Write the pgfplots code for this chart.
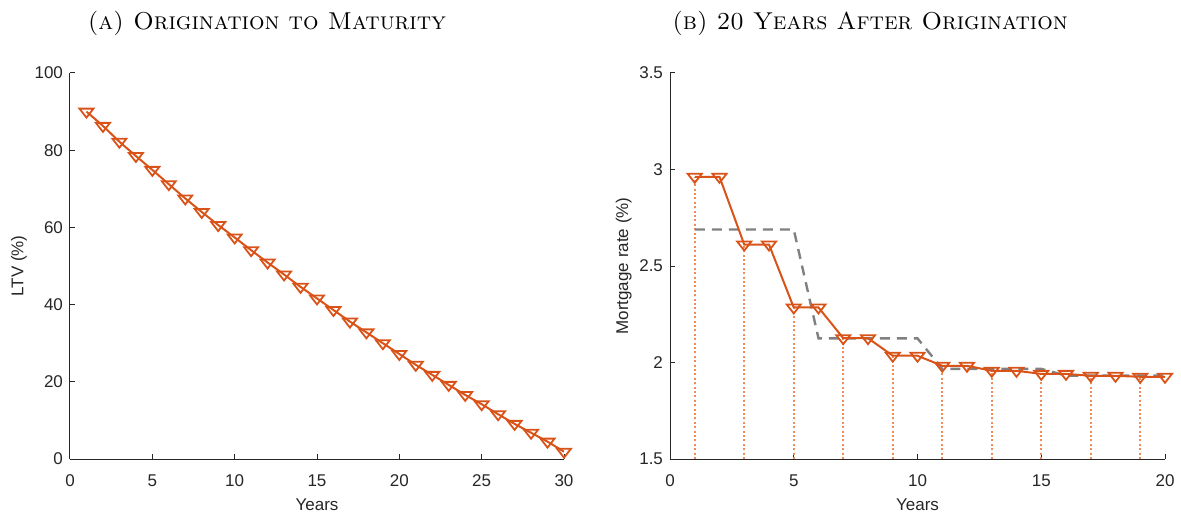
\documentclass[border=0pt]{standalone}
\usepackage{fontspec}
\usepackage{pgfplots}
\pgfplotsset{compat=1.18}
\newfontfamily\arial{Liberation Sans}
\definecolor{mOrange}{RGB}{217,83,25}
\definecolor{mDot}{RGB}{240,140,90}
\definecolor{axgray}{RGB}{38,38,38}
\definecolor{mGray}{RGB}{128,128,128}
\pgfplotsset{
  mystyle/.style={
    scale only axis, height=193pt,
    axis x line*=bottom, axis y line*=left,
    axis line style={-, axgray, line width=0.5pt},
    tick style={axgray, line width=0.5pt}, major tick length=2.5pt,
    ticklabel style={font=\arial\fontsize{8.5}{10}\selectfont, text=axgray},
    xticklabel style={yshift=-4.5pt},
    label style={font=\arial\fontsize{8.5}{10}\selectfont, text=axgray},
    ylabel shift=-3pt, xlabel shift=-1pt,
    /pgf/number format/assume math mode=true,
    anchor=south west,
  },
  tri/.style={mOrange, line width=1pt, mark=triangle, mark size=3pt,
    mark options={rotate=180, xscale=1.35, solid, fill=white, line width=0.9pt}},
}
\begin{document}
\begin{tikzpicture}
\path[use as bounding box] (0,0) rectangle (590.5pt,257.5pt);
\node[font=\fontsize{12.2}{14}\selectfont, anchor=base] at (133.5pt,242.5pt) {\textsc{(a) Origination to Maturity}};
\node[font=\fontsize{12.2}{14}\selectfont, anchor=base] at (435pt,242.5pt) {\textsc{(b) 20 Years After Origination}};
\begin{axis}[mystyle, at={(35pt,28pt)}, width=247pt,
  xmin=0, xmax=30, ymin=0, ymax=100,
  xtick={0,5,...,30}, ytick={0,20,...,100},
  xlabel={Years}, ylabel={LTV (\%)}]
\addplot[tri] coordinates {
(1,90.0)(2,86.3)(3,82.2)(4,78.5)(5,74.9)(6,71.2)(7,67.5)(8,64.0)(9,60.6)(10,57.4)
(11,54.1)(12,50.9)(13,47.8)(14,44.6)(15,41.6)(16,38.6)(17,35.6)(18,32.8)(19,30.0)(20,27.2)
(21,24.4)(22,21.8)(23,19.2)(24,16.6)(25,14.2)(26,11.6)(27,9.1)(28,6.8)(29,4.5)(30,1.9)};
\end{axis}
\begin{axis}[mystyle, at={(335pt,28pt)}, width=247.5pt,
  xmin=0, xmax=20, ymin=1.5, ymax=3.5,
  xtick={0,5,...,20}, ytick={1.5,2,2.5,3,3.5},
  yticklabel style={/pgf/number format/fixed},
  xlabel={Years}, ylabel={Mortgage rate (\%)}]
\addplot[mDot, line width=1pt, dash pattern=on 1pt off 1.2pt, ycomb] coordinates {
(1,2.962)(3,2.611)(5,2.285)(7,2.126)(9,2.035)(11,1.983)(13,1.957)(15,1.941)(17,1.931)(19,1.926)};
\addplot[mGray, line width=1.2pt, dash pattern=on 5pt off 3.5pt] coordinates {
(1,2.689)(5,2.689)(6,2.125)(10,2.125)(11,1.967)(15,1.967)(16,1.932)(20,1.932)};
\addplot[tri] coordinates {
(1,2.962)(2,2.962)(3,2.611)(4,2.611)(5,2.285)(6,2.285)(7,2.126)(8,2.126)(9,2.035)(10,2.035)
(11,1.983)(12,1.983)(13,1.957)(14,1.957)(15,1.941)(16,1.941)(17,1.931)(18,1.931)(19,1.926)(20,1.926)};
\end{axis}
\end{tikzpicture}
\end{document}
